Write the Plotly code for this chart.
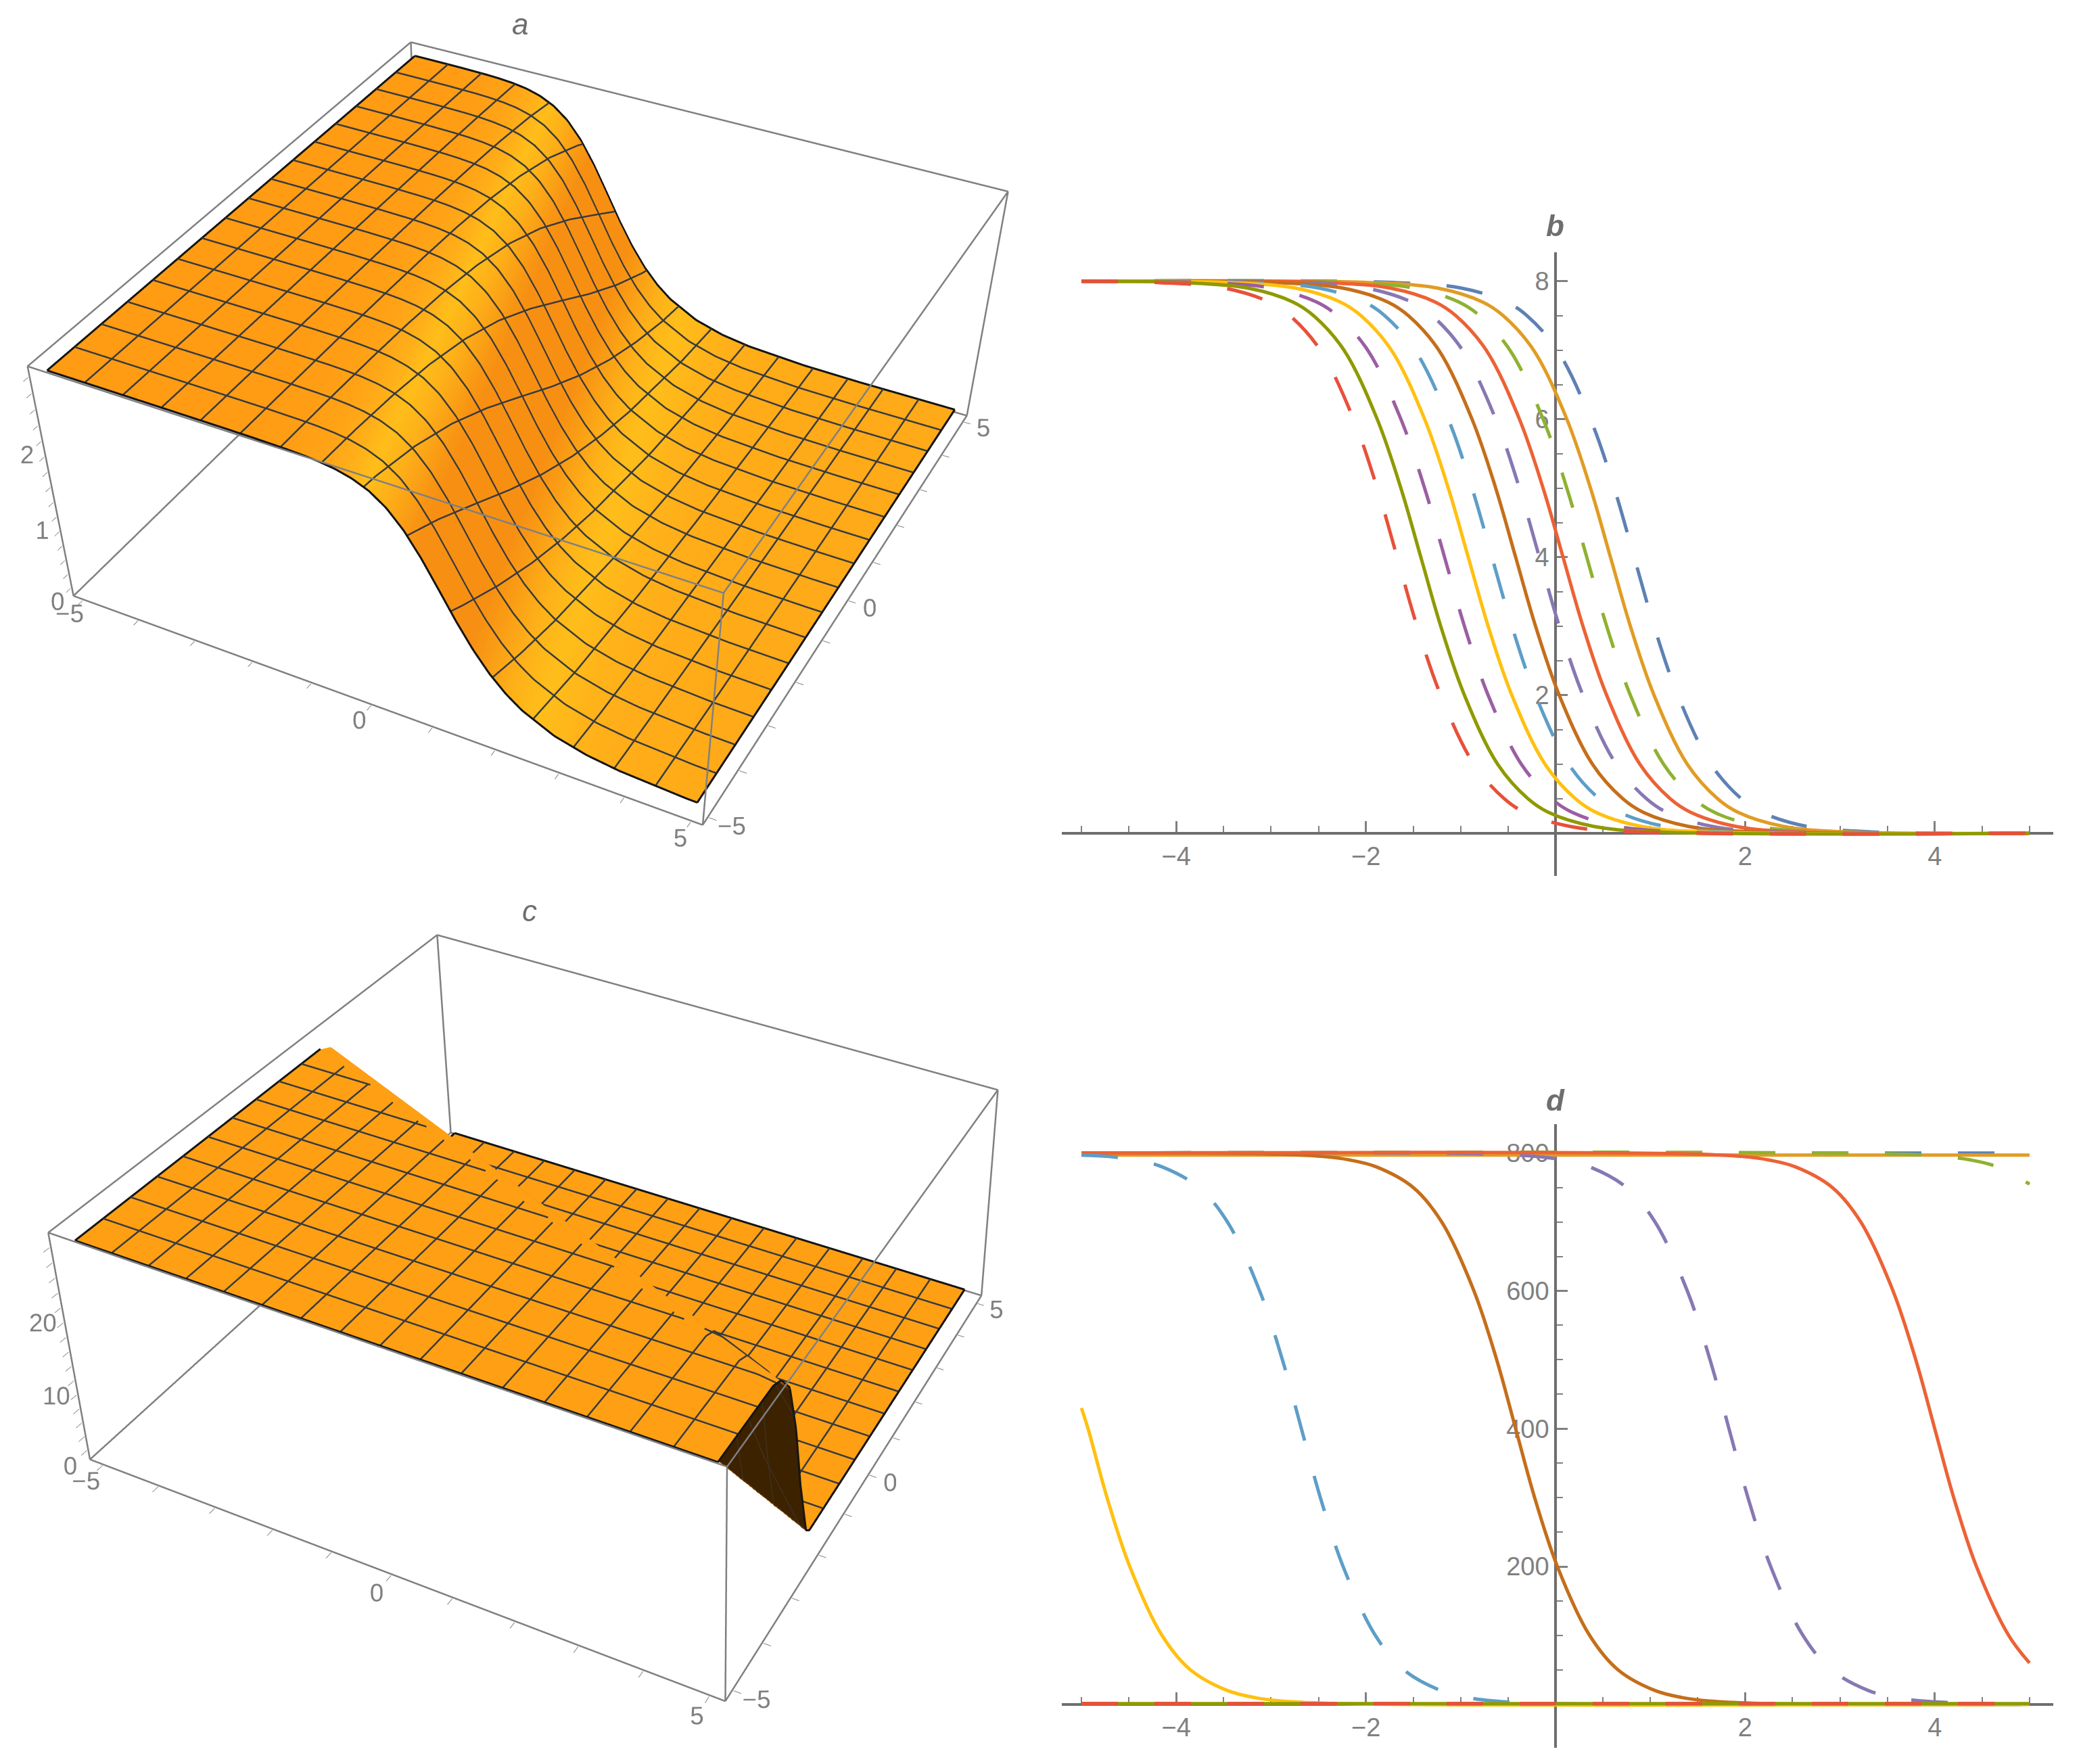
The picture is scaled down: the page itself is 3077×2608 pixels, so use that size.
import numpy as np, itertools
import plotly.graph_objects as go

W,H=3077,2608
GRAY='#808080'; TICK='#808080'
# ---------- 2D curves: x positions where each curve crosses the levels
ys_b=[7.98,7.9,7.7,7.5,7,6,5,4,3,2,1,.5,.3,.1,.02]
b_blue=[-1.67,-.99,-.52,-.30,.02,.37,.62,.83,1.04,1.29,1.64,1.96,2.18,2.65,3.33]
b_orange=[-1.92,-1.24,-.77,-.55,-.23,.12,.37,.58,.79,1.04,1.39,1.71,1.93,2.40,3.08]
b_green=[-2.17,-1.49,-1.02,-.80,-.48,-.13,.12,.33,.54,.79,1.14,1.46,1.68,2.15,2.83]
b_red=[-2.42,-1.74,-1.27,-1.05,-.73,-.38,-.13,.08,.29,.54,.89,1.21,1.43,1.90,2.58]
b_purple=[-2.67,-1.99,-1.52,-1.30,-.98,-.63,-.38,-.17,.04,.29,.64,.96,1.18,1.65,2.33]
b_brown=[-2.92,-2.24,-1.77,-1.55,-1.23,-.88,-.63,-.42,-.21,.04,.39,.71,.93,1.40,2.08]
b_cyan=[-3.17,-2.49,-2.02,-1.80,-1.48,-1.13,-.88,-.67,-.46,-.21,.14,.46,.68,1.15,1.83]
b_yellow=[-3.42,-2.74,-2.27,-2.05,-1.73,-1.38,-1.13,-.92,-.71,-.46,-.11,.21,.43,.90,1.58]
b_mauve=[-3.67,-2.99,-2.52,-2.30,-1.98,-1.63,-1.38,-1.17,-.96,-.71,-.36,-.04,.18,.65,1.33]
b_olive=[-3.92,-3.24,-2.77,-2.55,-2.23,-1.88,-1.63,-1.42,-1.21,-.96,-.61,-.29,-.07,.40,1.08]
b_redd=[-4.17,-3.49,-3.02,-2.80,-2.48,-2.13,-1.88,-1.67,-1.46,-1.21,-.86,-.54,-.32,.15,.83]

ys_d=[799,795,790,780,750,700,600,500,400,300,200,100,50,20,10,5,1]
d_blue_x=[-5,5]; d_blue_y=[800,800]
d_orange_x=[-5,5]; d_orange_y=[797,797]
d_green_x=[-5,3.46,4.10,4.38,4.66,5]; d_green_y=[800,799,795,790,780,755]
d_red_x=[-5,1.33,1.97,2.25,2.53,2.92,3.22,3.56,3.80,4.0,4.20,4.44,4.78,5]
d_red_y=[800,799,795,790,780,750,700,600,500,400,300,200,100,60]
d_purple=[-.84,-.20,.08,.36,.75,1.05,1.39,1.63,1.83,2.03,2.27,2.61,2.91,3.30,3.58,3.86,4.50]
d_brown=[-3.09,-2.45,-2.17,-1.89,-1.50,-1.20,-.86,-.62,-.42,-.22,.02,.36,.66,1.05,1.33,1.61,2.25]
d_cyan_x=[-5,-4.71,-4.43,-4.15,-3.76,-3.46,-3.12,-2.88,-2.68,-2.48,-2.24,-1.90,-1.60,-1.21,-.93,-.65,-.01,5]
d_cyan_y=[797,795,790,780,750,700,600,500,400,300,200,100,50,20,10,5,1,0]
d_yellow_x=[-5,-4.93,-4.73,-4.49,-4.15,-3.85,-3.46,-3.18,-2.90,-2.26,5]
d_yellow_y=[430,400,300,200,100,50,20,10,5,1,0]
d_low_x=[-5,5]; d_low_y=[1,1]

# ---------- 3D surfaces: height read along the slope profile
prof_s=[-8,-5,-4,-3,-2.5,-2,-1.75,-1.5,-1.25,-1,-.75,-.5,-.25,0,.25,.5,.75,1,1.25,1.5,2,2.5,3,4,5,8]
prof_a=[2.83,2.83,2.83,2.829,2.827,2.820,2.812,2.797,2.770,2.720,2.635,2.495,2.284,2.001,1.671,1.335,1.032,.779,.580,.429,.231,.124,.067,.019,.005,0]
prof_cs=[-30,-1.9,-1.3,-.6,0,.5,1.1,1.4,30]
prof_c=[28.3,28.3,27.6,25,18,9,.8,0,0]
ridge_a=[.25,.42]; ridge_c=[2.25,.42]

# view of each box: eye, center, up, aspect, half range, z range, scene centre
cam_a=dict(eye=[1.379,-2.717,2.099],center=[.195,-.446,-.695],up=[-.004,-.015,1],aspect=[1.168,1.194,.457],r=5.173,z=[-.115,2.931],cx=772.056)
cam_c=dict(eye=[1.573,-2.429,2.328],center=[.444,.822,.457],up=[-.037,-.091,1],aspect=[1.153,1.013,.462],r=5.236,z=[-1.353,29.931],cx=1482.67)

C=dict(blue='#5E81B5',orange='#E19C24',green='#8FB131',red='#EC6235',purple='#8778B3',brown='#C56E1A',
       cyan='#5D9EC7',yellow='#FFC010',mauve='#9B5EA3',olive='#8F9A00',redd='#E8503A')
DASH='54px,54px'
LW=5
fig=go.Figure()
def line(x,y,c,dash,xa,ya):
    fig.add_trace(go.Scatter(x=x,y=y,mode='lines',xaxis=xa,yaxis=ya,hoverinfo='skip',showlegend=False,
        line=dict(color=C[c],width=LW,dash=DASH if dash else 'solid',shape='spline',smoothing=1.0)))
for arr,c,d in [(b_blue,'blue',1),(b_orange,'orange',0),(b_green,'green',1),(b_red,'red',0),(b_purple,'purple',1),
                (b_brown,'brown',0),(b_cyan,'cyan',1),(b_yellow,'yellow',0),(b_mauve,'mauve',1),(b_olive,'olive',0),(b_redd,'redd',1)]:
    line([-5]+arr+[5],[8]+ys_b+[0],c,d,'x','y')
line(d_blue_x,d_blue_y,'blue',1,'x2','y2')
line(d_orange_x,d_orange_y,'orange',0,'x2','y2')
line(d_green_x,d_green_y,'green',1,'x2','y2')
line([-5]+d_purple+[5],[800]+ys_d+[0],'purple',1,'x2','y2')
line([-5]+d_brown+[5],[800]+ys_d+[0],'brown',0,'x2','y2')
line(d_red_x,d_red_y,'red',0,'x2','y2')
line(d_cyan_x,d_cyan_y,'cyan',1,'x2','y2')
line(d_yellow_x,d_yellow_y,'yellow',0,'x2','y2')
line(d_low_x,d_low_y,'mauve',1,'x2','y2')
line(d_low_x,d_low_y,'olive',0,'x2','y2')
line(d_low_x,d_low_y,'redd',1,'x2','y2')

# ---------- surfaces
gx=np.linspace(-5,5,257);gy=np.linspace(-5,5,257)
X,Y=np.meshgrid(gx,gy)
SA=X+ridge_a[0]*Y+ridge_a[1]
ZA=np.interp(SA,prof_s,prof_a)
ZC=np.interp(X+ridge_c[0]*Y+ridge_c[1],prof_cs,prof_c)
def slope(Z):
    dy,dx=np.gradient(Z,gy,gx);return np.hypot(dx,dy)
def soften(A,n=15):
    k=np.ones(n)/n
    pad=np.pad(A,((0,0),(n,n)),mode='edge')
    return np.apply_along_axis(lambda r:np.convolve(r,k,mode='same'),1,pad)[:,n:-n]
SLA=soften(slope(ZA));SLA=SLA/SLA.max()
TA=np.where(SA<0,SLA,2-SLA)
CS_A=[[0,'#FF9C14'],[.05,'#FFA818'],[.15,'#FFBE1A'],[.28,'#FDAC18'],[.43,'#F79012'],[.57,'#F79012'],[.72,'#FDAC18'],[.85,'#FFBE1A'],[.95,'#FFB019'],[1,'#FFAA18']]
CS_C=[[0,'#FFA014'],[.04,'#FFA014'],[.11,'#F58A12'],[.3,'#3D2200'],[1,'#3D2200']]
MESH=16
def surface(Z,T,cs,cmax,scene,lift,steep=None,xkeep=None):
    fig.add_trace(go.Surface(x=gx,y=gy,z=Z,surfacecolor=T,colorscale=cs,cmin=0,cmax=cmax,showscale=False,scene=scene,hoverinfo='skip',
        lighting=dict(ambient=1,diffuse=0,specular=0,roughness=1,fresnel=0),
        contours=dict(x=dict(show=False,highlight=False),y=dict(show=False,highlight=False),z=dict(show=False,highlight=False))))
    L=Z+lift
    if steep is not None:
        L=np.where((slope(Z)>steep)&(X<xkeep),np.nan,L)
    xs=[];ys=[];zs=[]; bx=[];by=[];bz=[]
    n=len(gx)-1; step=n//MESH
    for k in range(0,n+1,step):
        tx,ty,tz=(bx,by,bz) if k in (0,n) else (xs,ys,zs)
        tx+=[gx[k]]*(n+1)+[None]; ty+=list(gy)+[None]; tz+=list(L[:,k])+[None]
        tx+=list(gx)+[None]; ty+=[gy[k]]*(n+1)+[None]; tz+=list(L[k,:])+[None]
    fig.add_trace(go.Scatter3d(x=xs,y=ys,z=zs,mode='lines',line=dict(color='#3a3a3a',width=5),scene=scene,hoverinfo='skip',showlegend=False))
    fig.add_trace(go.Scatter3d(x=bx,y=by,z=bz,mode='lines',line=dict(color='#141414',width=6),scene=scene,hoverinfo='skip',showlegend=False))
surface(ZA,TA,CS_A,2,'scene',.012)
surface(ZC,slope(ZC),CS_C,80,'scene2',.12,2.0,3.6)
def boxlines(p,scene):
    r=p['r'];zl,zh=p['z']
    xs=[];ys=[];zs=[]
    V=list(itertools.product([-r,r],[-r,r],[zl,zh]))
    for a,b in itertools.combinations(V,2):
        if sum(u!=v for u,v in zip(a,b))==1:
            xs+=[a[0],b[0],None];ys+=[a[1],b[1],None];zs+=[a[2],b[2],None]
    fig.add_trace(go.Scatter3d(x=xs,y=ys,z=zs,mode='lines',line=dict(color=GRAY,width=5),scene=scene,hoverinfo='skip',showlegend=False))
boxlines(cam_a,'scene');boxlines(cam_c,'scene2')
def vec(v): return dict(x=v[0],y=v[1],z=v[2])
def scene(p,zvals,ztext):
    r=p['r'];zl,zh=p['z'];e=.003
    ticks=list(range(-5,6))
    txt=['−5','','','','','0','','','','','5']
    base=dict(showbackground=False,showgrid=False,zeroline=False,showspikes=False,showline=False,title='',ticks='outside',
              ticklen=9,tickwidth=2,tickcolor=TICK,tickfont=dict(size=21,color=TICK,family='Liberation Sans'),tickmode='array',tickangle=0)
    return dict(domain=dict(x=[0,2*p['cx']/W],y=[0,1]),aspectmode='manual',aspectratio=vec(p['aspect']),
        camera=dict(eye=vec(p['eye']),center=vec(p['center']),up=vec(p['up'])),
        xaxis=dict(base,range=[-r*(1+e),r*(1+e)],tickvals=ticks,ticktext=txt),
        yaxis=dict(base,range=[-r*(1+e),r*(1+e)],tickvals=ticks,ticktext=txt),
        zaxis=dict(base,range=[zl-e*(zh-zl),zh+e*(zh-zl)],tickvals=zvals,ticktext=ztext),bgcolor='rgba(0,0,0,0)')
zA=[round(.2*i,1) for i in range(0,15)]
zAt=[('%d'%v if abs(v-round(v))<1e-6 else '') for v in zA]
zC=list(range(0,29,2))
zCt=[(str(v) if v%10==0 else '') for v in zC]

# ---------- layout
s=1.9624
def px(v): return v/W
def py(v): return 1-v/H
XMAJ=[-4,-2,2,4]; XMIN=[-5,-4.5,-3.5,-3,-2.5,-1.5,-1,-.5,.5,1,1.5,2.5,3,3.5,4.5,5]
YB=[2,4,6,8]; YBm=[.5,1,1.5,2.5,3,3.5,4.5,5,5.5,6.5,7,7.5]
YD=[200,400,600,800]; YDm=[50,100,150,250,300,350,450,500,550,650,700,750]
def xax(y0):
    return dict(domain=[px(1570),px(3036)],range=[-5.207,5.25],anchor='free',position=py(y0),tickmode='array',tickvals=XMAJ,layer='below traces',
        ticks='inside',ticklen=16,tickwidth=2.5,tickcolor=TICK,linecolor='#6e6e6e',linewidth=3.5,showline=True,showgrid=False,zeroline=False,
        tickfont=dict(size=38,color=TICK,family='Liberation Sans'),
        minor=dict(tickmode='array',tickvals=XMIN,ticks='inside',ticklen=9,tickwidth=2,tickcolor=TICK,showgrid=False))
def yax(top,bot,rng,maj,mn):
    return dict(domain=[py(bot),py(top)],range=rng,anchor='free',position=px(2300),tickmode='array',tickvals=maj,layer='below traces',
        ticks='inside',ticklen=16,tickwidth=2.5,tickcolor=TICK,linecolor='#6e6e6e',linewidth=3.5,showline=True,showgrid=False,zeroline=False,
        tickfont=dict(size=38,color=TICK,family='Liberation Sans'),
        minor=dict(tickmode='array',tickvals=mn,ticks='inside',ticklen=9,tickwidth=2,tickcolor=TICK,showgrid=False))
labels=[('a',392,18,False),('b',1172,170,True),('c',399,686,False),('d',1172,829,True)]
ann=[dict(x=px(a*s),y=py(b*s),xref='paper',yref='paper',xanchor='center',yanchor='middle',text=('<b><i>%s</i></b>'%t if bd else '<i>%s</i>'%t),showarrow=False,
          font=dict(size=44,color='#6e6e6e',family='Liberation Sans')) for t,a,b,bd in labels]
fig.update_layout(width=W,height=H,margin=dict(l=0,r=0,t=0,b=0),paper_bgcolor='white',plot_bgcolor='rgba(0,0,0,0)',showlegend=False,hovermode=False,
    xaxis=xax(1232),yaxis=yax(373,1295,[-.618,8.42],YB,YBm),
    xaxis2=xax(2520),yaxis2=yax(1662,2584,[-63,842],YD,YDm),
    scene=scene(cam_a,zA,zAt),scene2=scene(cam_c,zC,zCt),annotations=ann)
fig.write_html("out.html",post_script="document.body.style.margin='0';",config=dict(displayModeBar=False))
